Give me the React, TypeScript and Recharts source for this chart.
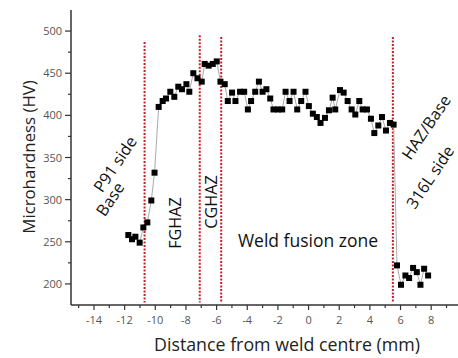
import React from 'react';
import { LineChart, Line, XAxis, YAxis, ReferenceLine } from 'recharts';

const distances = [
  -11.76, -11.52, -11.3, -11.02, -10.78, -10.52, -10.26, -10.05, -9.78, -9.52,
  -9.3, -9.02, -8.76, -8.5, -8.26, -7.97, -7.78, -7.52, -7.25, -6.97,
  -6.78, -6.52, -6.25, -5.99, -5.75, -5.47, -5.27, -4.99, -4.77, -4.47,
  -4.2, -3.96, -3.75, -3.48, -3.24, -3.0, -2.75, -2.5, -2.29, -2.0,
  -1.72, -1.5, -1.24, -0.98, -0.74, -0.48, -0.2, 0.02, 0.28, 0.54,
  0.78, 1.07, 1.33, 1.57, 1.74, 2.05, 2.29, 2.55, 2.81, 3.05,
  3.31, 3.53, 3.81, 4.07, 4.29, 4.55, 4.79, 5.05, 5.31, 5.55,
  5.77, 6.03, 6.32, 6.56, 6.82, 7.06, 7.3, 7.54, 7.8,
];

const hardness = [
  258, 253, 256, 249, 267, 273, 299, 332, 410, 417,
  420, 428, 422, 434, 431, 437, 428, 450, 444, 440,
  461, 459, 461, 464, 440, 437, 417, 427, 417, 428,
  428, 407, 417, 428, 440, 428, 431, 420, 407, 407,
  407, 428, 417, 428, 407, 417, 428, 411, 402, 398,
  391, 397, 406, 421, 407, 430, 427, 417, 407, 401,
  417, 407, 407, 396, 379, 388, 398, 382, 391, 389,
  222, 199, 210, 207, 219, 214, 199, 218, 210,
];

const xTicks = [-15, -14, -13, -12, -11, -10, -9, -8, -7, -6, -5, -4, -3, -2, -1, 0, 1, 2, 3, 4, 5, 6, 7, 8, 9];
const yTicks = [200, 225, 250, 275, 300, 325, 350, 375, 400, 425, 450, 475, 500];

const zoneBoundaries = [
  { x: -10.7, top: 487 },
  { x: -7.1, top: 495 },
  { x: -5.7, top: 493 },
  { x: 5.5, top: 493 },
];

const data = distances.map((x, i) => ({ x, hv: hardness[i] }));

const FONT = '"Open Sans", "Noto Sans", sans-serif';

const XTick = (props: any) => {
  const { x, y, payload } = props;
  const v = payload.value;
  const major = v % 2 === 0;
  return (
    <g>
      <line x1={x} x2={x} y1={y} y2={y + (major ? 5 : 3)} stroke="#333" strokeWidth={1.2} />
      {major && (
        <text x={x} y={y + 19} textAnchor="middle" fill="#555" fontSize={11} fontFamily={FONT}>
          {v}
        </text>
      )}
    </g>
  );
};

const YTick = (props: any) => {
  const { x, y, payload } = props;
  const v = payload.value;
  const major = v % 50 === 0;
  return (
    <g>
      <line x1={x - (major ? 6 : 3)} x2={x} y1={y} y2={y} stroke="#333" strokeWidth={1.2} />
      {major && (
        <text x={x - 9} y={y + 4} textAnchor="end" fill="#555" fontSize={11} fontFamily={FONT}>
          {v}
        </text>
      )}
    </g>
  );
};

const SquareDot = (props: any) => {
  const { cx, cy, index } = props;
  if (cx == null || cy == null) return <g key={index} />;
  return <rect key={index} x={cx - 3} y={cy - 3} width={6} height={6} fill="#000" />;
};

export default function App() {
  return (
    <div style={{ position: 'absolute', left: 0, top: 0, width: 458, height: 358, background: '#fff' }}>
      <LineChart width={458} height={358} data={data} margin={{ top: 10, right: 0, left: 0, bottom: 0 }}>
        <XAxis
          xAxisId="main"
          type="number"
          dataKey="x"
          domain={[-15.5, 9.75]}
          ticks={xTicks}
          allowDataOverflow
          height={53}
          tickSize={0}
          tickMargin={0}
          tickLine={false}
          tick={<XTick />}
          interval={0}
          axisLine={{ stroke: '#333', strokeWidth: 1.5 }}
        />
        <XAxis
          xAxisId="top"
          orientation="top"
          type="number"
          dataKey="x"
          domain={[-15.5, 9.75]}
          allowDataOverflow
          height={0}
          tick={false}
          tickLine={false}
          axisLine={{ stroke: '#444', strokeWidth: 1.5 }}
        />
        <YAxis
          type="number"
          domain={[175, 525]}
          ticks={yTicks}
          allowDataOverflow
          width={71}
          tickSize={0}
          tickMargin={0}
          tickLine={false}
          tick={<YTick />}
          interval={0}
          axisLine={{ stroke: '#333', strokeWidth: 1.5 }}
        />
        {zoneBoundaries.map((b, i) => (
          <ReferenceLine
            key={i}
            xAxisId="main"
            segment={[{ x: b.x, y: b.top }, { x: b.x, y: 178 }]}
            stroke="#c8202a"
            strokeWidth={2}
            strokeDasharray="2 1.5"
            ifOverflow="visible"
          />
        ))}
        <Line
          xAxisId="main"
          type="linear"
          dataKey="hv"
          stroke="#aaaaaa"
          strokeWidth={1}
          dot={<SquareDot />}
          activeDot={false}
          isAnimationActive={false}
        />
      </LineChart>
      <svg
        width={458}
        height={358}
        style={{ position: 'absolute', left: 0, top: 0, pointerEvents: 'none' }}
        fontFamily={FONT}
      >
        <text x={28} y={157} textAnchor="middle" dominantBaseline="central" fontSize={16.8} fill="#222" transform="rotate(-90 28 157)">
          Microhardness (HV)
        </text>
        <text x={287} y={344} textAnchor="middle" dominantBaseline="central" fontSize={17.8} fill="#222">
          Distance from weld centre (mm)
        </text>
        <text x={115} y={164} textAnchor="middle" dominantBaseline="central" fontSize={16.2} fill="#111" transform="rotate(-56 115 164)">
          P91 side
        </text>
        <text x={110} y={199} textAnchor="middle" dominantBaseline="central" fontSize={16.2} fill="#111" transform="rotate(-56 110 199)">
          Base
        </text>
        <text x={175} y={223} textAnchor="middle" dominantBaseline="central" fontSize={16.2} fill="#111" transform="rotate(-90 175 223)">
          FGHAZ
        </text>
        <text x={211} y={202} textAnchor="middle" dominantBaseline="central" fontSize={16.2} fill="#111" transform="rotate(-90 211 202)">
          CGHAZ
        </text>
        <text x={308} y={240} textAnchor="middle" dominantBaseline="central" fontSize={17.5} fill="#111">
          Weld fusion zone
        </text>
        <text x={426} y={127} textAnchor="middle" dominantBaseline="central" fontSize={16.2} fill="#111" transform="rotate(-56 426 127)">
          HAZ/Base
        </text>
        <text x={430} y={177} textAnchor="middle" dominantBaseline="central" fontSize={16.2} fill="#111" transform="rotate(-56 430 177)">
          316L side
        </text>
      </svg>
    </div>
  );
}
